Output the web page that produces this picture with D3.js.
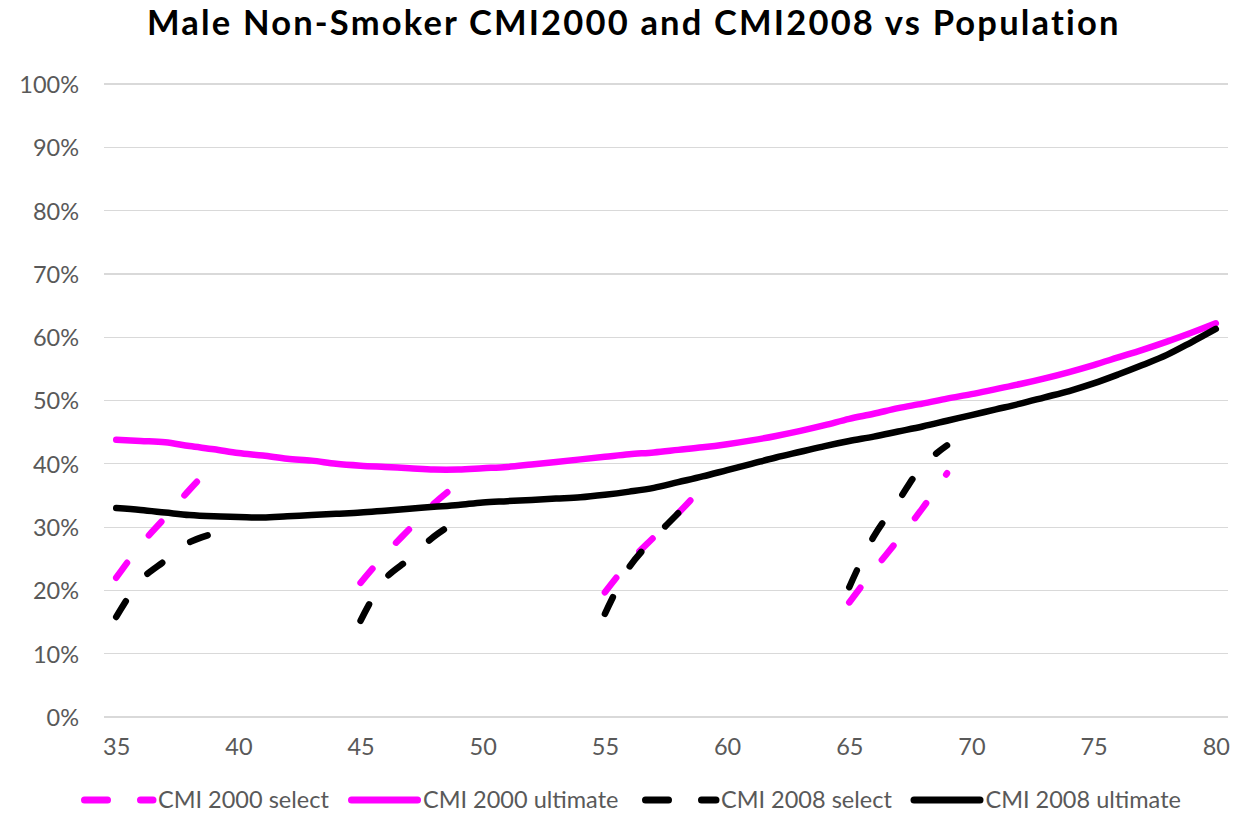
<!DOCTYPE html>
<html>
<head>
<meta charset="utf-8">
<script src="https://cdn.jsdelivr.net/npm/d3@7"></script>
<style>
  html, body { margin: 0; padding: 0; background: #ffffff; }
  svg { display: block; }
</style>
</head>
<body>
<div id="chart"></div>
<script>
// Ages on the category axis
const ages = [35,36,37,38,39,40,41,42,43,44,45,46,47,48,49,50,51,52,53,54,55,56,57,58,59,
              60,61,62,63,64,65,66,67,68,69,70,71,72,73,74,75,76,77,78,79,80];
const xTickAges = [35,40,45,50,55,60,65,70,75,80];
const yTicks = [0,0.1,0.2,0.3,0.4,0.5,0.6,0.7,0.8,0.9,1.0];

// Ultimate mortality as a proportion of population mortality
const cmi2000Ultimate = [0.438,0.436,0.434,0.428,0.423,0.417,0.413,0.408,0.405,0.400,
                         0.397,0.395,0.393,0.391,0.391,0.393,0.395,0.399,0.403,0.407,
                         0.411,0.415,0.418,0.422,0.426,0.431,0.437,0.444,0.452,0.461,
                         0.471,0.479,0.488,0.495,0.503,0.510,0.518,0.526,0.535,0.545,
                         0.556,0.568,0.580,0.593,0.607,0.622];
const cmi2008Ultimate = [0.330,0.327,0.323,0.319,0.317,0.316,0.315,0.317,0.319,0.321,
                         0.323,0.326,0.329,0.332,0.335,0.339,0.341,0.343,0.345,0.347,
                         0.351,0.356,0.362,0.371,0.380,0.390,0.400,0.410,0.419,0.428,
                         0.436,0.443,0.451,0.459,0.468,0.477,0.486,0.495,0.505,0.515,
                         0.527,0.541,0.556,0.572,0.592,0.613];

// Select periods: five ages starting at each entry age
const selectStartAges = [35, 45, 55, 65];
const cmi2000Select = [
  [0.220, 0.272, 0.315, 0.359, 0.400],
  [0.212, 0.257, 0.297, 0.337, 0.369],
  [0.197, 0.245, 0.284, 0.322, 0.363],
  [0.181, 0.232, 0.280, 0.330, 0.385]
];
const cmi2008Select = [
  [0.158, 0.216, 0.247, 0.276, 0.290],
  [0.152, 0.218, 0.250, 0.285, 0.311],
  [0.163, 0.237, 0.282, 0.322, 0.360],
  [0.205, 0.285, 0.341, 0.397, 0.429]
];

const titleText = "Male Non-Smoker CMI2000 and CMI2008 vs Population";
const legendLabels = ["CMI 2000 select", "CMI 2000 ultimate", "CMI 2008 select", "CMI 2008 ultimate"];

const MAGENTA = "#FF00FF", BLACK = "#000000";
const W = 1233, H = 813;
const FONT = "Lato, 'Open Sans', sans-serif";

const svg = d3.select("#chart").append("svg")
  .attr("width", W).attr("height", H)
  .style("background", "#ffffff");

const plot = { left: 104, right: 1228, top: 84, bottom: 717 };

const x = d3.scalePoint().domain(ages).range([plot.left, plot.right]).padding(0.5);
const y = d3.scaleLinear().domain([0, 1]).range([plot.bottom, plot.top]);

// Gridlines
svg.append("g")
  .selectAll("line").data(yTicks).join("line")
  .attr("x1", plot.left).attr("x2", plot.right)
  .attr("y1", d => y(d)).attr("y2", d => y(d))
  .attr("stroke", "#D9D9D9").attr("stroke-width", 1.2)
  .attr("shape-rendering", "crispEdges");

// Y axis labels
const yAxis = d3.axisLeft(y).tickValues(yTicks).tickFormat(d3.format(".0%")).tickSize(0).tickPadding(0);
const yG = svg.append("g").attr("transform", "translate(79,0)").call(yAxis);
yG.select(".domain").remove();
yG.selectAll("text")
  .attr("font-family", FONT).attr("font-size", 23.5).attr("fill", "#595959")
  .attr("dy", "0.36em");

// X axis labels
const xAxis = d3.axisBottom(x).tickValues(xTickAges).tickSize(0).tickPadding(0);
const xG = svg.append("g").attr("transform", "translate(0,738)").call(xAxis);
xG.select(".domain").remove();
xG.selectAll("text")
  .attr("font-family", FONT).attr("font-size", 23.5).attr("fill", "#595959")
  .attr("dy", "0.71em");

const line = d3.line().x(d => x(d[0])).y(d => y(d[1])).curve(d3.curveCatmullRom.alpha(0.5));

const DASH = "18.5 35";
const LW = 6.5;

function drawSelect(series, color) {
  series.forEach((vals, i) => {
    const pts = vals.map((v, k) => [selectStartAges[i] + k, v]);
    svg.append("path").datum(pts)
      .attr("d", line)
      .attr("fill", "none").attr("stroke", color).attr("stroke-width", LW)
      .attr("stroke-linecap", "round").attr("stroke-linejoin", "round")
      .attr("stroke-dasharray", DASH);
  });
}
function drawUltimate(vals, color) {
  svg.append("path").datum(ages.map((a, k) => [a, vals[k]]))
    .attr("d", line)
    .attr("fill", "none").attr("stroke", color).attr("stroke-width", LW)
    .attr("stroke-linecap", "round").attr("stroke-linejoin", "round");
}

drawSelect(cmi2000Select, MAGENTA);
drawUltimate(cmi2000Ultimate, MAGENTA);
drawSelect(cmi2008Select, BLACK);
drawUltimate(cmi2008Ultimate, BLACK);

// Title, spread to its full span
const title = svg.append("text")
  .attr("x", 147).attr("y", 35)
  .attr("font-family", FONT).attr("font-weight", 700)
  .attr("font-size", 34.5).attr("fill", "#000000")
  .text(titleText);
const tw = title.node().getComputedTextLength();
title.attr("letter-spacing", Math.max(0, (972 - tw) / (titleText.length - 1)));

// Legend
const legendY = 800;
const legendItems = [
  { label: legendLabels[0], color: MAGENTA, dashed: true,  x0: 84.5,  x1: 153,   tx: 158 },
  { label: legendLabels[1], color: MAGENTA, dashed: false, x0: 351.5, x1: 417.5, tx: 423 },
  { label: legendLabels[2], color: BLACK,   dashed: true,  x0: 645.5, x1: 716,   tx: 721 },
  { label: legendLabels[3], color: BLACK,   dashed: false, x0: 914,   x1: 980,   tx: 985.5 }
];
const lg = svg.append("g");
legendItems.forEach(it => {
  lg.append("line")
    .attr("x1", it.x0).attr("x2", it.x1).attr("y1", legendY).attr("y2", legendY)
    .attr("stroke", it.color).attr("stroke-width", 7)
    .attr("stroke-linecap", "round")
    .attr("stroke-dasharray", it.dashed ? "23 33" : null);
  lg.append("text")
    .attr("x", it.tx).attr("y", legendY).attr("dy", "0.36em")
    .attr("font-family", FONT).attr("font-size", 23.5).attr("fill", "#595959")
    .text(it.label);
});
</script>
</body>
</html>
